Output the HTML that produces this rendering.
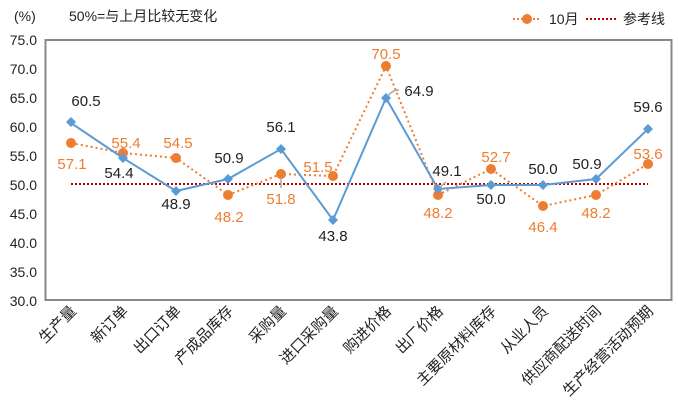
<!DOCTYPE html>
<html><head><meta charset="utf-8"><style>
html,body{margin:0;padding:0;background:#fff;}
svg{display:block;font-family:"Liberation Sans","Noto Sans CJK SC",sans-serif;}
</style></head><body>
<svg width="678" height="411" viewBox="0 0 678 411" xmlns="http://www.w3.org/2000/svg">
<rect x="0" y="0" width="678" height="411" fill="#fff"/>
<text x="14" y="21" font-size="14" fill="#222">(%)</text>
<text x="69" y="21" font-size="14" fill="#222">50%=与上月比较无变化</text>
<g font-size="14" fill="#222" text-anchor="end">
<text x="37" y="45">75.0</text><text x="37" y="74">70.0</text><text x="37" y="103">65.0</text>
<text x="37" y="132">60.0</text><text x="37" y="161">55.0</text><text x="37" y="190">50.0</text>
<text x="37" y="219">45.0</text><text x="37" y="248">40.0</text><text x="37" y="277">35.0</text>
<text x="37" y="306">30.0</text>
</g>
<rect x="45.5" y="40" width="626" height="260" fill="none" stroke="#888" stroke-width="2"/>
<line x1="71" y1="184" x2="648" y2="184" stroke="#c00000" stroke-width="2" stroke-dasharray="2,2"/>
<!-- legend -->
<line x1="513" y1="19" x2="541" y2="19" stroke="#ed7d31" stroke-width="2" stroke-dasharray="2,2"/>
<circle cx="527" cy="19" r="5" fill="#ed7d31"/>
<text x="549" y="24" font-size="14" fill="#222">10月</text>
<line x1="586" y1="19" x2="616" y2="19" stroke="#c00000" stroke-width="2" stroke-dasharray="2,2"/>
<text x="623" y="24" font-size="14" fill="#222">参考线</text>
<!-- orange -->
<polyline fill="none" stroke="#ed7d31" stroke-width="2" stroke-dasharray="2,3" points="71,143 123,153 176,158 228,195 281,174 333,176 386,66 438,195 491,169 543,206 596,195 648,164"/>
<g fill="#ed7d31">
<circle cx="71" cy="143" r="5"/><circle cx="123" cy="153" r="5"/><circle cx="176" cy="158" r="5"/><circle cx="228" cy="195" r="5"/><circle cx="281" cy="174" r="5"/><circle cx="333" cy="176" r="5"/><circle cx="386" cy="66" r="5"/><circle cx="438" cy="195" r="5"/><circle cx="491" cy="169" r="5"/><circle cx="543" cy="206" r="5"/><circle cx="596" cy="195" r="5"/><circle cx="648" cy="164" r="5"/>
</g>
<!-- blue -->
<polyline fill="none" stroke="#5b9bd5" stroke-width="2" points="71,123 123,158 176,191 228,179 281,149 333,220 386,98 438,189 491,185 543,185 596,179 648,129"/>
<g fill="#5b9bd5">
<path d="M71,117l5,5l-5,5l-5,-5z"/><path d="M123,153l5,5l-5,5l-5,-5z"/><path d="M176,186l5,5l-5,5l-5,-5z"/><path d="M228,174l5,5l-5,5l-5,-5z"/><path d="M281,144l5,5l-5,5l-5,-5z"/><path d="M333,215l5,5l-5,5l-5,-5z"/><path d="M386,93l5,5l-5,5l-5,-5z"/><path d="M438,184l5,5l-5,5l-5,-5z"/><path d="M491,180l5,5l-5,5l-5,-5z"/><path d="M543,180l5,5l-5,5l-5,-5z"/><path d="M596,174l5,5l-5,5l-5,-5z"/><path d="M648,124l5,5l-5,5l-5,-5z"/>
</g>
<path d="M388,96 q4,-6 11,-6" fill="none" stroke="#aaa" stroke-width="1.5"/>
<path d="M440,187 l6,-5" fill="none" stroke="#aaa" stroke-width="1.5"/>
<path d="M281,178 v10" fill="none" stroke="#aaa" stroke-width="1.5"/>
<g font-size="15" fill="#222" text-anchor="middle">
<text x="86" y="106">60.5</text><text x="119" y="178">54.4</text><text x="176" y="209">48.9</text>
<text x="229" y="163">50.9</text><text x="281" y="132">56.1</text><text x="333" y="241">43.8</text>
<text x="419" y="96">64.9</text><text x="447" y="176">49.1</text><text x="491" y="204">50.0</text>
<text x="543" y="174">50.0</text><text x="587" y="169">50.9</text><text x="648" y="112">59.6</text>
</g>
<g font-size="15" fill="#ed7d31" text-anchor="middle">
<text x="72" y="169">57.1</text><text x="126" y="148">55.4</text><text x="178" y="148">54.5</text>
<text x="229" y="222">48.2</text><text x="281" y="204">51.8</text><text x="318" y="172">51.5</text>
<text x="386" y="59">70.5</text><text x="438" y="218">48.2</text><text x="496" y="162">52.7</text>
<text x="543" y="232">46.4</text><text x="596" y="218">48.2</text><text x="648" y="159">53.6</text>
</g>
<g font-size="15" fill="#222" text-anchor="end">
<text transform="translate(77,312) rotate(-45)">生产量</text>
<text transform="translate(129,312) rotate(-45)">新订单</text>
<text transform="translate(182,312) rotate(-45)">出口订单</text>
<text transform="translate(234,312) rotate(-45)">产成品库存</text>
<text transform="translate(287,312) rotate(-45)">采购量</text>
<text transform="translate(339,312) rotate(-45)">进口采购量</text>
<text transform="translate(392,312) rotate(-45)">购进价格</text>
<text transform="translate(444,312) rotate(-45)">出厂价格</text>
<text transform="translate(497,312) rotate(-45)">主要原材料库存</text>
<text transform="translate(549,312) rotate(-45)">从业人员</text>
<text transform="translate(602,312) rotate(-45)">供应商配送时间</text>
<text transform="translate(654,312) rotate(-45)">生产经营活动预期</text>
</g>
</svg>
</body></html>
